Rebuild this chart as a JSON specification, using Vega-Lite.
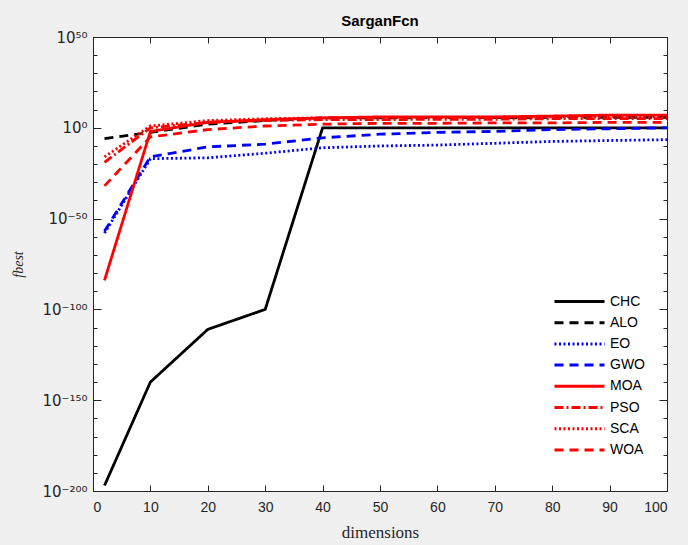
{
  "$schema": "https://vega.github.io/schema/vega-lite/v6.json",
  "autosize": {"type": "none"},
  "padding": {"left": 93, "top": 37, "right": 21, "bottom": 54},
  "width": 574,
  "height": 454,
  "background": "#f0f0f0",
  "title": {"text": "SarganFcn", "font": "Liberation Sans", "fontSize": 15, "fontWeight": "bold", "color": "#000000", "offset": 1},
  "config": {
    "view": {"fill": "white", "stroke": "#262626", "strokeWidth": 1},
    "axis": {"grid": false, "domainColor": "#262626", "tickColor": "#262626", "labelColor": "#262626", "labelFont": "Liberation Sans", "labelFontSize": 14}
  },
  "data": {"values": [
    {"dim": 2, "algo": "CHC", "f": 1e-197}, {"dim": 10, "algo": "CHC", "f": 1e-140}, {"dim": 20, "algo": "CHC", "f": 1e-111}, {"dim": 30, "algo": "CHC", "f": 1e-100}, {"dim": 40, "algo": "CHC", "f": 1}, {"dim": 50, "algo": "CHC", "f": 1}, {"dim": 60, "algo": "CHC", "f": 1}, {"dim": 70, "algo": "CHC", "f": 1}, {"dim": 80, "algo": "CHC", "f": 1}, {"dim": 90, "algo": "CHC", "f": 1}, {"dim": 100, "algo": "CHC", "f": 1},
    {"dim": 2, "algo": "ALO", "f": 1e-6}, {"dim": 10, "algo": "ALO", "f": 3e-3}, {"dim": 20, "algo": "ALO", "f": 1e2}, {"dim": 30, "algo": "ALO", "f": 1e4}, {"dim": 40, "algo": "ALO", "f": 3e5}, {"dim": 50, "algo": "ALO", "f": 3e5}, {"dim": 60, "algo": "ALO", "f": 4e5}, {"dim": 70, "algo": "ALO", "f": 4e5}, {"dim": 80, "algo": "ALO", "f": 5e5}, {"dim": 90, "algo": "ALO", "f": 5e5}, {"dim": 100, "algo": "ALO", "f": 5e5},
    {"dim": 2, "algo": "EO", "f": 1e-58}, {"dim": 10, "algo": "EO", "f": 1e-17}, {"dim": 20, "algo": "EO", "f": 3e-17}, {"dim": 30, "algo": "EO", "f": 1e-14}, {"dim": 40, "algo": "EO", "f": 1e-11}, {"dim": 50, "algo": "EO", "f": 1e-10}, {"dim": 60, "algo": "EO", "f": 3e-10}, {"dim": 70, "algo": "EO", "f": 3e-9}, {"dim": 80, "algo": "EO", "f": 3e-8}, {"dim": 90, "algo": "EO", "f": 1e-7}, {"dim": 100, "algo": "EO", "f": 3e-7},
    {"dim": 2, "algo": "GWO", "f": 1e-57}, {"dim": 10, "algo": "GWO", "f": 1e-16}, {"dim": 20, "algo": "GWO", "f": 3e-11}, {"dim": 30, "algo": "GWO", "f": 1e-9}, {"dim": 40, "algo": "GWO", "f": 3e-6}, {"dim": 50, "algo": "GWO", "f": 3e-4}, {"dim": 60, "algo": "GWO", "f": 3e-3}, {"dim": 70, "algo": "GWO", "f": 1e-2}, {"dim": 80, "algo": "GWO", "f": 1e-1}, {"dim": 90, "algo": "GWO", "f": 3e-1}, {"dim": 100, "algo": "GWO", "f": 1},
    {"dim": 2, "algo": "MOA", "f": 1e-84}, {"dim": 10, "algo": "MOA", "f": 1e-2}, {"dim": 20, "algo": "MOA", "f": 1e3}, {"dim": 30, "algo": "MOA", "f": 3e4}, {"dim": 40, "algo": "MOA", "f": 3e5}, {"dim": 50, "algo": "MOA", "f": 1e6}, {"dim": 60, "algo": "MOA", "f": 1e6}, {"dim": 70, "algo": "MOA", "f": 1e6}, {"dim": 80, "algo": "MOA", "f": 3e6}, {"dim": 90, "algo": "MOA", "f": 1e7}, {"dim": 100, "algo": "MOA", "f": 1e7},
    {"dim": 2, "algo": "PSO", "f": 1e-19}, {"dim": 10, "algo": "PSO", "f": 1}, {"dim": 20, "algo": "PSO", "f": 1e3}, {"dim": 30, "algo": "PSO", "f": 1e4}, {"dim": 40, "algo": "PSO", "f": 3e4}, {"dim": 50, "algo": "PSO", "f": 3e4}, {"dim": 60, "algo": "PSO", "f": 5e4}, {"dim": 70, "algo": "PSO", "f": 5e4}, {"dim": 80, "algo": "PSO", "f": 1e5}, {"dim": 90, "algo": "PSO", "f": 1e5}, {"dim": 100, "algo": "PSO", "f": 1e5},
    {"dim": 2, "algo": "SCA", "f": 1e-16}, {"dim": 10, "algo": "SCA", "f": 10}, {"dim": 20, "algo": "SCA", "f": 1e4}, {"dim": 30, "algo": "SCA", "f": 1e5}, {"dim": 40, "algo": "SCA", "f": 3e5}, {"dim": 50, "algo": "SCA", "f": 5e5}, {"dim": 60, "algo": "SCA", "f": 5e5}, {"dim": 70, "algo": "SCA", "f": 7e5}, {"dim": 80, "algo": "SCA", "f": 1e6}, {"dim": 90, "algo": "SCA", "f": 1e6}, {"dim": 100, "algo": "SCA", "f": 1e6},
    {"dim": 2, "algo": "WOA", "f": 1e-32}, {"dim": 10, "algo": "WOA", "f": 1e-5}, {"dim": 20, "algo": "WOA", "f": 1e-1}, {"dim": 30, "algo": "WOA", "f": 10}, {"dim": 40, "algo": "WOA", "f": 1e2}, {"dim": 50, "algo": "WOA", "f": 3e2}, {"dim": 60, "algo": "WOA", "f": 3e2}, {"dim": 70, "algo": "WOA", "f": 5e2}, {"dim": 80, "algo": "WOA", "f": 5e2}, {"dim": 90, "algo": "WOA", "f": 1e3}, {"dim": 100, "algo": "WOA", "f": 1e3}
  ]},
  "resolve": {"axis": {"x": "independent", "y": "independent"}},
  "layer": [
    {
      "mark": {"type": "line", "strokeWidth": 2.8, "clip": true},
      "encoding": {
        "x": {"field": "dim", "type": "quantitative", "scale": {"domain": [0, 100], "nice": false},
          "axis": {"orient": "bottom", "values": [0, 10, 20, 30, 40, 50, 60, 70, 80, 90, 100], "tickSize": -6, "labelPadding": 15, "title": "dimensions", "titleFont": "Liberation Serif", "titleFontSize": 17, "titleFontWeight": "normal", "titleColor": "#262626", "titlePadding": 10}},
        "y": {"field": "f", "type": "quantitative", "scale": {"type": "log", "domain": [1e-200, 1e50], "nice": false},
          "axis": {"orient": "left", "values": [1e-200, 1e-190, 1e-180, 1e-170, 1e-160, 1e-150, 1e-140, 1e-130, 1e-120, 1e-110, 1e-100, 1e-90, 1e-80, 1e-70, 1e-60, 1e-50, 1e-40, 1e-30, 1e-20, 1e-10, 1, 1e10, 1e20, 1e30, 1e40, 1e50],
            "labelExpr": "round(log(datum.value)/LN10) == 50 ? '10⁵⁰' : round(log(datum.value)/LN10) == 0 ? '10⁰' : round(log(datum.value)/LN10) == -50 ? '10⁻⁵⁰' : round(log(datum.value)/LN10) == -100 ? '10⁻¹⁰⁰' : round(log(datum.value)/LN10) == -150 ? '10⁻¹⁵⁰' : round(log(datum.value)/LN10) == -200 ? '10⁻²⁰⁰' : ''",
            "tickSize": {"condition": {"test": "round(log(datum.value)/LN10) % 50 == 0", "value": -8}, "value": -4},
            "labelPadding": 14, "labelFont": "DejaVu Sans", "labelFontSize": 15,
            "title": "fbest", "titleFont": "Liberation Serif", "titleFontStyle": "italic", "titleFontWeight": "normal", "titleFontSize": 14, "titleColor": "#262626", "titlePadding": 16}},
        "color": {"field": "algo", "type": "nominal", "sort": ["CHC", "ALO", "EO", "GWO", "MOA", "PSO", "SCA", "WOA"],
          "scale": {"domain": ["CHC", "ALO", "EO", "GWO", "MOA", "PSO", "SCA", "WOA"], "range": ["#000000", "#000000", "#0000ff", "#0000ff", "#ff0000", "#ff0000", "#ff0000", "#ff0000"]},
          "legend": {"orient": "none", "legendX": 471, "legendY": 249, "title": null, "symbolType": "M-2.5,0H2.5", "symbolSize": 400, "symbolStrokeWidth": 3, "labelFont": "Liberation Sans", "labelFontSize": 14, "labelColor": "#000000", "labelOffset": 19, "rowPadding": 2.2, "fillColor": "white", "padding": 4}},
        "strokeDash": {"field": "algo", "type": "nominal", "sort": ["CHC", "ALO", "EO", "GWO", "MOA", "PSO", "SCA", "WOA"],
          "scale": {"domain": ["CHC", "ALO", "EO", "GWO", "MOA", "PSO", "SCA", "WOA"], "range": [[1, 0], [9, 6], [2, 2.5], [9, 6], [1, 0], [9, 3, 2, 3], [2, 2.5], [9, 6]]},
          "legend": {"orient": "none", "legendX": 471, "legendY": 249, "title": null, "symbolType": "M-2.5,0H2.5", "symbolSize": 400, "symbolStrokeWidth": 3, "labelFont": "Liberation Sans", "labelFontSize": 14, "labelColor": "#000000", "labelOffset": 19, "rowPadding": 2.2, "fillColor": "white", "padding": 4}}
      }
    },
    {
      "mark": {"type": "point", "opacity": 0},
      "encoding": {
        "x": {"field": "dim", "type": "quantitative", "scale": {"domain": [0, 100], "nice": false},
          "axis": {"orient": "top", "values": [0, 10, 20, 30, 40, 50, 60, 70, 80, 90, 100], "tickSize": -6, "labels": false, "title": null}},
        "y": {"field": "f", "type": "quantitative", "scale": {"type": "log", "domain": [1e-200, 1e50], "nice": false},
          "axis": {"orient": "right", "values": [1e-200, 1e-190, 1e-180, 1e-170, 1e-160, 1e-150, 1e-140, 1e-130, 1e-120, 1e-110, 1e-100, 1e-90, 1e-80, 1e-70, 1e-60, 1e-50, 1e-40, 1e-30, 1e-20, 1e-10, 1, 1e10, 1e20, 1e30, 1e40, 1e50],
            "tickSize": {"condition": {"test": "round(log(datum.value)/LN10) % 50 == 0", "value": -8}, "value": -4}, "labels": false, "title": null}}
      }
    }
  ]
}
